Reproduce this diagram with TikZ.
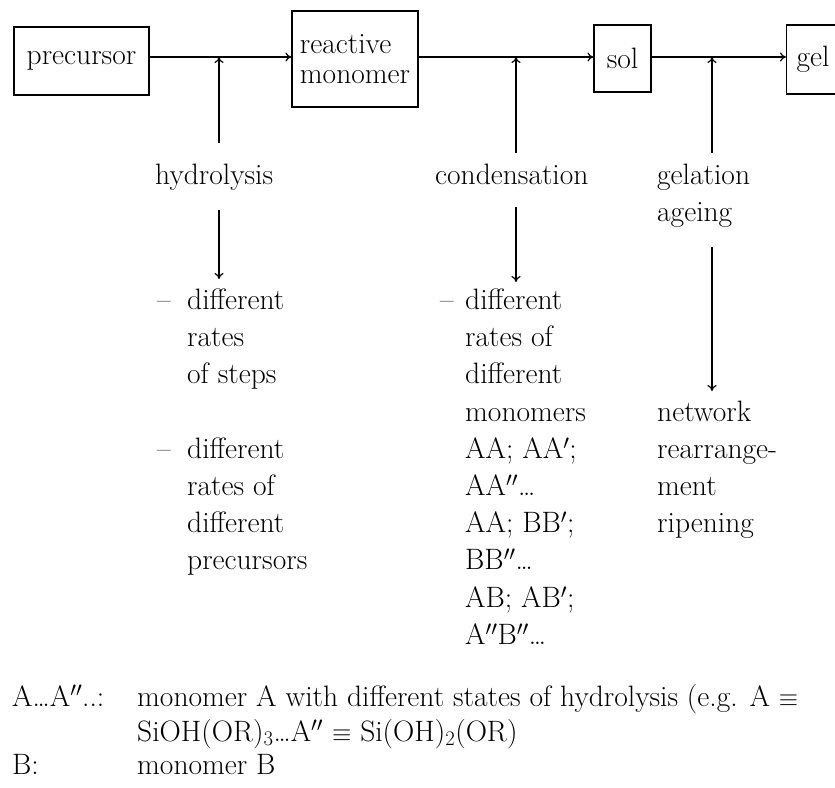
\documentclass[tikz,border=0pt]{standalone}
\usetikzlibrary{arrows.meta}
\newcommand\dfs{\fontsize{29.5}{37}\selectfont}
\newcommand\bfs{\fontsize{29.5}{30}\selectfont}
\begin{document}
\begin{tikzpicture}[x=1pt,y=-1pt,
  box/.style={draw, line width=1.2pt, inner sep=0pt, font=\bfs},
  txt/.style={inner sep=0pt, anchor=base west, font=\dfs},
  arr/.style={-{To[length=6pt,width=9pt]}, line width=1.2pt}]
\useasboundingbox (0,0) rectangle (835,787);
\clip (0,0) rectangle (835,787);
\fill[white] (0,0) rectangle (835,787);
% boxes
\node[box, minimum width=135pt, minimum height=68pt] (pre) at (81.5,61) {precursor};
\node[box, minimum width=126pt, minimum height=96pt, align=left] (rm) at (355,59) {reactive\\monomer};
\node[box, minimum width=57pt, minimum height=67pt] (sol) at (622.5,58.5) {sol};
\node[box, minimum height=69pt, inner xsep=10pt, text width=50pt, anchor=west] (gel) at (786,59.5) {gel};
% main line junctions
\coordinate (m1) at (219,57);
\coordinate (m2) at (516,57);
\coordinate (m3) at (712,57);
\draw[arr] (pre.east |- m1) -- (rm.west |- m1);
\draw[arr] (rm.east |- m2) -- (sol.west |- m2);
\draw[arr] (sol.east |- m3) -- (gel.west |- m3);
% upward arrows
\coordinate (u1) at (219,143);
\coordinate (u2) at (516,153);
\coordinate (u3) at (712,153);
\draw[arr] (u1) -- (m1);
\draw[arr] (u2) -- (m2);
\draw[arr] (u3) -- (m3);
% labels
\node[txt] (hyd) at (155,184.5) {hydrolysis};
\node[txt] (con) at (435,184.5) {condensation};
\node[txt] (gela) at (657,184.5) {gelation};
\node[txt] (agei) at (657,221.5) {ageing};
% downward arrows
\coordinate (d1a) at (219,210);
\coordinate (d1b) at (219,279);
\coordinate (d2a) at (516,207);
\coordinate (d2b) at (516,282);
\coordinate (d3a) at (712,247);
\coordinate (d3b) at (712,391);
\draw[arr] (d1a) -- (d1b);
\draw[arr] (d2a) -- (d2b);
\draw[arr] (d3a) -- (d3b);
% left list
\node[txt] (ld1) at (157,309.5) {--};
\node[txt] (ld2) at (157,458.3) {--};
\foreach \t [count=\i] in {different,rates,of steps}
  \node[txt] (la\i) at (187,272.3+37.2*\i) {\t};
\foreach \t [count=\i] in {different,rates of,different,precursors}
  \node[txt] (lb\i) at (187,421.1+37.2*\i) {\t};
% middle list
\node[txt] (md1) at (440,309.5) {--};
\foreach \t [count=\i] in {different,rates of,different,monomers,{AA; AA$'$;},{AA$''$\ldots},{AA; BB$'$;},{BB$''$\ldots},{AB; AB$'$;},{A$''$B$''$\ldots}}
  \node[txt] (mm\i) at (465,272.3+37.2*\i) {\t};
% right list
\foreach \t [count=\i] in {network,rearrange-,ment,ripening}
  \node[txt] (rr\i) at (657,383.9+37.2*\i) {\t};
% footnote
\node[txt] (f1) at (12,706) {A\ldots A$''$..:};
\node[txt] (f2) at (137,706) {monomer A with different states of hydrolysis (e.g. A $\equiv$};
\node[txt] (f3) at (137,741) {SiOH(OR)$_3$\ldots A$''$ $\equiv$ Si(OH)$_2$(OR)};
\node[txt] (f4) at (12,774) {B:};
\node[txt] (f5) at (137,774) {monomer B};
\end{tikzpicture}
\end{document}
